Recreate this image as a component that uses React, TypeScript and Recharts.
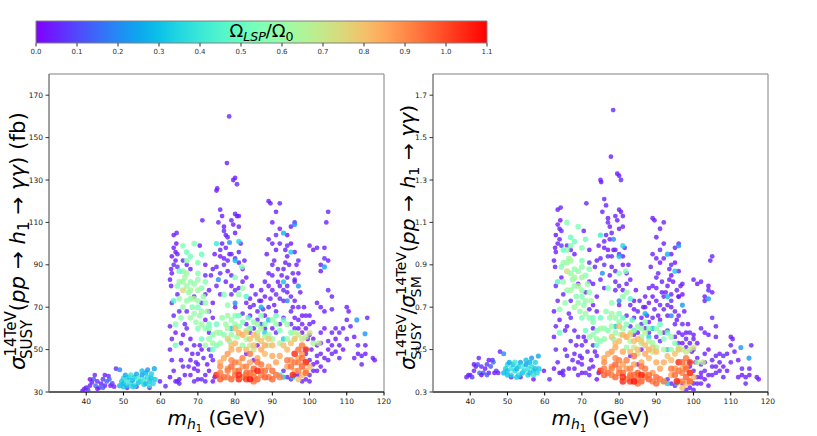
import { ReferenceArea, Scatter, ScatterChart, XAxis, YAxis } from "recharts";

// each point: [m_h1 (GeV), sigma_SUSY (fb), sigma_SUSY / sigma_SM, Omega_LSP / Omega_0]
type Pt = [number, number, number, number];

const lowMassPoints: Pt[] = [
  [39, 30.5, 0.37, 0.03], [39.5, 31.5, 0.38, 0.05], [40, 32, 0.38, 0.04], [40.5, 31, 0.37, 0.08],
  [41, 33, 0.4, 0.05], [41.5, 34.5, 0.42, 0.03], [42, 36, 0.43, 0.12], [42.3, 38, 0.46, 0.05],
  [42.5, 33, 0.39, 0.15], [43, 35, 0.42, 0.06], [43.5, 32, 0.39, 0.1], [44, 34, 0.41, 0.04],
  [44.5, 36, 0.43, 0.08], [45, 33, 0.39, 0.05], [45.5, 35, 0.42, 0.12], [46, 37.5, 0.45, 0.06],
  [46.2, 36, 0.44, 0.15], [46.5, 33, 0.39, 0.03], [47, 34, 0.4, 0.08], [47.5, 32.5, 0.39, 0.05],
  [41, 36, 0.43, 0.02], [43, 31.5, 0.38, 0.02], [44.5, 32, 0.38, 0.13], [48, 41, 0.49, 0.06],
  [45, 38, 0.45, 0.04], [51, 32, 0.37, 0.04], [53.5, 32.5, 0.37, 0.05], [59.8, 35, 0.4, 0.04],
  [61.3, 32.7, 0.36, 0.06], [57, 32, 0.36, 0.03],
];

const firstColumn: Pt[] = [
  [63.5, 104, 1.16, 0.03], [64.3, 105, 1.17, 0.05], [63.5, 98, 1.09, 0.04], [64, 96, 1.07, 0.03],
  [64.5, 95, 1.06, 0.06], [63, 94, 1.04, 0.02], [64, 92, 1.02, 0.04], [63.5, 90, 1.0, 0.05],
  [62.8, 88, 0.98, 0.03], [64.5, 89, 0.99, 0.07], [63, 86, 0.96, 0.04], [62.5, 83, 0.92, 0.03],
  [62.8, 80, 0.89, 0.05], [64.2, 100, 1.11, 0.02], [63, 72, 0.8, 0.06], [64.5, 76, 0.84, 0.04],
  [63.5, 66, 0.73, 0.05], [64, 58, 0.64, 0.03], [63, 45, 0.5, 0.05], [63.5, 40, 0.44, 0.04],
  [64, 35, 0.39, 0.03], [64.5, 35, 0.39, 0.06], [65, 36, 0.4, 0.04], [65, 34, 0.38, 0.05],
  [62.5, 37, 0.41, 0.03], [65.5, 45, 0.5, 0.04], [66, 42, 0.47, 0.06], [62.5, 61, 0.68, 0.04],
  [65, 68, 0.76, 0.05], [66, 92, 0.99, 0.05], [67, 90, 0.97, 0.03], [68, 88, 0.95, 0.04],
  [67, 60, 0.65, 0.06], [68, 45, 0.48, 0.04], [69, 41, 0.44, 0.03], [70, 40, 0.43, 0.05],
  [70, 43, 0.46, 0.04], [70, 48, 0.52, 0.06], [70.5, 99, 1.06, 0.04], [71.2, 111, 1.19, 0.05],
  [72, 90, 0.97, 0.03], [72, 85, 0.91, 0.06], [73, 78, 0.81, 0.04], [72, 76, 0.82, 0.05],
  [73, 68, 0.71, 0.03], [74, 65, 0.68, 0.04], [73, 50, 0.52, 0.06], [74, 45, 0.47, 0.05],
  [73, 40, 0.42, 0.03], [72, 38, 0.41, 0.04], [71, 36, 0.39, 0.06], [72, 35, 0.38, 0.05],
  [74, 35, 0.36, 0.03], [74.5, 37, 0.39, 0.04], [69, 52, 0.56, 0.05], [71, 50, 0.54, 0.03],
  [67, 68, 0.73, 0.06], [68, 38, 0.41, 0.04], [69, 35, 0.38, 0.05], [70, 36, 0.39, 0.03],
  [66.5, 62, 0.67, 0.05], [69, 75, 0.81, 0.04], [71, 72, 0.77, 0.06], [73, 58, 0.6, 0.03],
];

const secondColumn: Pt[] = [
  [75, 125, 1.3, 0.04], [75.2, 126, 1.29, 0.03], [76, 116, 1.21, 0.05], [76.5, 113, 1.18, 0.04],
  [77, 108, 1.12, 0.03], [77, 106, 1.1, 0.06], [77.5, 104, 1.08, 0.04], [78, 103, 1.05, 0.05],
  [78.5, 95, 0.97, 0.03], [79, 95, 0.97, 0.06], [76.5, 100, 1.04, 0.04], [76, 97, 1.01, 0.05],
  [77, 93, 0.97, 0.03], [77.8, 138, 1.41, 0.04], [78.4, 160, 1.63, 0.05], [79.5, 130, 1.33, 0.03],
  [80, 131, 1.32, 0.04], [80.5, 128, 1.3, 0.06], [80, 114, 1.16, 0.05], [80.5, 113, 1.15, 0.03],
  [81, 113, 1.13, 0.04], [81, 108, 1.08, 0.05], [80, 93, 0.95, 0.04], [81, 91, 0.9, 0.03],
  [79, 85, 0.87, 0.05], [79, 80, 0.82, 0.04], [80, 78, 0.8, 0.06], [81, 79, 0.78, 0.03],
  [82, 82, 0.81, 0.05], [83, 84, 0.83, 0.04], [82, 88, 0.86, 0.03], [79, 76, 0.78, 0.05],
  [80, 70, 0.71, 0.04], [82, 67, 0.66, 0.06], [84, 74, 0.73, 0.03], [85, 71, 0.68, 0.05],
  [86, 68, 0.65, 0.04], [84, 70, 0.69, 0.04], [76, 94, 0.98, 0.03], [75, 89, 0.93, 0.05],
  [74, 88, 0.92, 0.04], [77, 90, 0.94, 0.06], [81.5, 100, 0.98, 0.04], [79.5, 109, 1.11, 0.03],
  [75.5, 110, 1.15, 0.05], [78, 92, 0.94, 0.05], [83, 62, 0.61, 0.04], [85, 60, 0.58, 0.03],
  [86, 64, 0.62, 0.05], [84, 58, 0.57, 0.06], [86, 52, 0.5, 0.04], [85, 45, 0.43, 0.03],
  [83, 48, 0.47, 0.05], [87, 62, 0.6, 0.04], [88, 66, 0.63, 0.03],
];

const thirdColumn: Pt[] = [
  [89, 120, 1.12, 0.04], [89.5, 119, 1.11, 0.03], [92, 119, 1.1, 0.05], [90, 110, 1.03, 0.04],
  [91, 104, 0.97, 0.06], [92, 107, 1.0, 0.03], [89, 102, 0.95, 0.05], [90, 100, 0.93, 0.04],
  [91, 97, 0.91, 0.03], [92, 100, 0.93, 0.05], [93.5, 97, 0.88, 0.04], [94, 99, 0.9, 0.06],
  [94, 94, 0.85, 0.03], [95, 108, 0.98, 0.04], [96, 110, 1.0, 0.05], [95, 100, 0.91, 0.03],
  [96, 96, 0.87, 0.04], [97, 92, 0.81, 0.05], [97, 86, 0.76, 0.03], [96, 82, 0.75, 0.06],
  [89, 86, 0.8, 0.04], [90, 85, 0.79, 0.05], [89, 80, 0.75, 0.03], [90, 78, 0.73, 0.04],
  [91, 76, 0.71, 0.06], [92, 74, 0.69, 0.05], [93, 73, 0.66, 0.04], [94, 77, 0.7, 0.03],
  [92, 80, 0.75, 0.05], [94, 84, 0.76, 0.04], [96, 83, 0.75, 0.03], [95, 75, 0.68, 0.05],
  [96, 73, 0.66, 0.04], [97, 70, 0.62, 0.06], [98, 66, 0.58, 0.03], [98, 62, 0.55, 0.05],
  [99, 60, 0.53, 0.04], [98, 58, 0.51, 0.03], [95, 68, 0.62, 0.05], [93, 65, 0.59, 0.04],
  [92, 62, 0.58, 0.03], [91, 58, 0.54, 0.06], [90, 60, 0.56, 0.04], [89, 70, 0.65, 0.05],
  [88, 75, 0.72, 0.03], [87, 73, 0.7, 0.04], [90.5, 92, 0.86, 0.05], [93, 88, 0.8, 0.04],
  [91.5, 82, 0.77, 0.03], [94.5, 90, 0.82, 0.05], [97.5, 77, 0.68, 0.04], [95.5, 70, 0.64, 0.03],
  [93, 78, 0.71, 0.06], [91, 68, 0.64, 0.04], [97, 64, 0.57, 0.05], [88.5, 95, 0.89, 0.04],
];

const highMassPoints: Pt[] = [
  [100, 99, 0.83, 0.04], [101, 97, 0.81, 0.03], [102, 98, 0.82, 0.05], [103, 90, 0.75, 0.04],
  [104, 93, 0.78, 0.06], [104, 98, 0.8, 0.03], [104.5, 110, 0.92, 0.04], [105, 115, 0.94, 0.05],
  [105, 92, 0.77, 0.04], [103, 87, 0.73, 0.03], [102, 72, 0.6, 0.05], [103, 70, 0.58, 0.04],
  [104, 68, 0.57, 0.03], [105, 78, 0.65, 0.06], [106, 75, 0.61, 0.04], [106, 69, 0.56, 0.05],
  [104, 60, 0.5, 0.03], [103, 58, 0.48, 0.04], [102, 52, 0.43, 0.05], [101, 55, 0.46, 0.04],
  [100, 57, 0.5, 0.03], [99, 50, 0.44, 0.06], [102, 47, 0.39, 0.04], [103, 48, 0.4, 0.05],
  [104, 46, 0.38, 0.03], [105, 50, 0.42, 0.04], [106, 48, 0.39, 0.05], [107, 49, 0.4, 0.04],
  [107, 55, 0.44, 0.03], [108, 58, 0.47, 0.06], [108, 52, 0.42, 0.04], [109, 60, 0.48, 0.05],
  [110, 70, 0.56, 0.04], [110.5, 68, 0.55, 0.03], [110, 64, 0.52, 0.05], [112, 46, 0.37, 0.04],
  [113, 48, 0.38, 0.03], [113, 52, 0.41, 0.06], [114, 47, 0.37, 0.04], [114, 43, 0.34, 0.05],
  [115, 48, 0.38, 0.03], [115, 52, 0.41, 0.04], [115.5, 65, 0.52, 0.05], [117, 46, 0.37, 0.04],
  [117.5, 45, 0.36, 0.03], [110, 55, 0.44, 0.05], [111, 61, 0.49, 0.04], [99, 48, 0.42, 0.04],
  [100, 45, 0.4, 0.05], [101, 43, 0.37, 0.03], [101, 40, 0.34, 0.04], [100, 38, 0.34, 0.06],
  [99, 36, 0.32, 0.04], [102, 40, 0.34, 0.05], [103, 42, 0.36, 0.03], [97, 38, 0.34, 0.04],
  [95, 36, 0.33, 0.05], [96, 38, 0.35, 0.03], [94, 37, 0.34, 0.04], [93, 40, 0.36, 0.05],
  [101, 63, 0.53, 0.04], [100, 66, 0.57, 0.03], [106, 58, 0.47, 0.05], [112, 56, 0.45, 0.04],
];

const scatteredPurple: Pt[] = [
  [66.5, 38, 0.41, 0.04], [67.5, 42, 0.45, 0.05], [68.5, 48, 0.52, 0.03], [69.5, 44, 0.47, 0.06],
  [70.5, 52, 0.56, 0.04], [71.5, 46, 0.49, 0.05], [72.5, 43, 0.45, 0.03], [73.5, 47, 0.49, 0.04],
  [67, 50, 0.54, 0.05], [68, 55, 0.59, 0.04], [66, 57, 0.61, 0.03], [65.5, 53, 0.59, 0.06],
  [62.5, 50, 0.56, 0.04], [63, 55, 0.61, 0.05], [72, 64, 0.69, 0.04], [74, 72, 0.75, 0.03],
  [73.5, 85, 0.89, 0.05], [74.5, 95, 0.99, 0.04], [76, 86, 0.9, 0.06], [77.5, 82, 0.85, 0.04],
  [78, 87, 0.89, 0.03], [82.5, 92, 0.9, 0.05], [83, 72, 0.71, 0.04], [84.5, 80, 0.78, 0.03],
  [85.5, 76, 0.73, 0.05], [86.5, 73, 0.7, 0.04], [87.5, 69, 0.66, 0.06], [84, 66, 0.65, 0.04],
  [88, 60, 0.58, 0.05], [89.5, 74, 0.69, 0.04], [90.5, 71, 0.66, 0.03], [91.5, 88, 0.82, 0.05],
  [92.5, 85, 0.77, 0.04], [93.5, 91, 0.83, 0.03], [95.5, 86, 0.78, 0.05], [96.5, 90, 0.8, 0.04],
  [94, 80, 0.73, 0.06], [95, 62, 0.56, 0.04], [96, 60, 0.53, 0.05], [97, 60, 0.53, 0.03],
  [98.5, 70, 0.62, 0.04], [99, 66, 0.58, 0.05], [100, 62, 0.55, 0.04], [99.5, 55, 0.49, 0.03],
  [100.5, 50, 0.44, 0.05], [98, 35, 0.31, 0.04], [100, 35, 0.31, 0.05], [102, 44, 0.37, 0.03],
  [103, 53, 0.44, 0.04], [105, 54, 0.45, 0.05], [106, 52, 0.42, 0.04], [104, 40, 0.33, 0.03],
  [105, 45, 0.38, 0.05], [107, 60, 0.48, 0.04], [108, 46, 0.37, 0.05], [109, 50, 0.4, 0.03],
  [96, 65, 0.58, 0.04], [90, 90, 0.84, 0.05], [91, 115, 1.07, 0.04], [94, 104, 0.95, 0.03],
  [88, 82, 0.79, 0.05], [87, 78, 0.75, 0.04], [75, 80, 0.83, 0.05], [76, 76, 0.79, 0.04],
  [81, 96, 0.94, 0.04], [80, 105, 1.07, 0.03], [79, 111, 1.13, 0.05], [77.5, 98, 1.02, 0.04],
];

const bluePoints: Pt[] = [
  [78.5, 100.5, 1.02, 0.2], [75.5, 83, 0.86, 0.2], [80, 72, 0.73, 0.2], [96, 109, 0.99, 0.22],
  [97, 80, 0.71, 0.22], [94, 73, 0.66, 0.2], [104, 89, 0.74, 0.24], [112.7, 64, 0.51, 0.22],
  [114.9, 57.5, 0.46, 0.22], [93, 105, 0.95, 0.28], [93, 82, 0.75, 0.3], [81, 101, 0.99, 0.35],
  [75, 100, 1.04, 0.4], [79, 60, 0.61, 0.3], [93, 55, 0.5, 0.33], [95, 96, 0.87, 0.32],
  [87, 70, 0.67, 0.28], [89, 64, 0.6, 0.3], [80, 92, 0.94, 0.3], [84, 60, 0.59, 0.35],
  [95.5, 37, 0.34, 0.35], [92, 38, 0.35, 0.4], [93, 37, 0.34, 0.32], [88, 58, 0.56, 0.34],
];

const cyanCluster: Pt[] = [
  [49, 40.5, 0.48, 0.2], [49, 33, 0.39, 0.28], [49.5, 35, 0.41, 0.32], [50, 34, 0.4, 0.3],
  [50, 36.5, 0.43, 0.35], [50.5, 38, 0.44, 0.25], [51, 33, 0.38, 0.33], [51, 35.5, 0.41, 0.38],
  [51.5, 37, 0.43, 0.3], [52, 34, 0.4, 0.36], [52, 38, 0.44, 0.4], [52.5, 35.5, 0.41, 0.28],
  [53, 37, 0.42, 0.33], [53, 33, 0.38, 0.37], [53.5, 38.5, 0.44, 0.25], [54, 34.5, 0.39, 0.3],
  [54, 36.5, 0.42, 0.42], [54.5, 35, 0.4, 0.35], [55, 38, 0.43, 0.22], [55, 40, 0.45, 0.3],
  [55.5, 33.5, 0.38, 0.34], [55.5, 36, 0.41, 0.38], [56, 34, 0.39, 0.3], [56, 39, 0.44, 0.28],
  [56.5, 37, 0.42, 0.36], [57, 35, 0.4, 0.32], [57, 33, 0.38, 0.38], [57.5, 36.5, 0.41, 0.3],
  [57.5, 38.5, 0.44, 0.33], [58, 34, 0.39, 0.35], [58.3, 41, 0.47, 0.25], [58.5, 36, 0.41, 0.32],
  [50, 32.5, 0.38, 0.3], [52.5, 32.5, 0.37, 0.32], [56.5, 40.5, 0.46, 0.22],
];

const greenPoints: Pt[] = [
  [63.5, 73, 0.82, 0.45], [64, 62, 0.69, 0.55], [64, 52, 0.58, 0.5], [65, 82, 0.91, 0.6],
  [66, 82, 0.91, 0.62], [66, 87, 0.97, 0.58], [66, 78, 0.87, 0.75], [66, 99, 1.1, 0.55],
  [67, 80, 0.86, 0.6], [67, 86, 0.92, 0.62], [68, 82, 0.88, 0.58], [68, 78, 0.84, 0.65],
  [69, 81, 0.87, 0.6], [69, 100, 1.08, 0.55], [70, 83, 0.89, 0.6], [70, 86, 0.92, 0.55],
  [70, 78, 0.84, 0.62], [71, 79, 0.85, 0.58], [71, 95, 1.02, 0.5], [72, 82, 0.88, 0.55],
  [66, 70, 0.78, 0.6], [67, 73, 0.78, 0.62], [68, 74, 0.8, 0.58], [69, 74, 0.8, 0.65],
  [70, 73, 0.78, 0.6], [70, 70, 0.75, 0.55], [71, 68, 0.73, 0.6], [72, 72, 0.77, 0.58],
  [68, 65, 0.7, 0.62], [69, 67, 0.72, 0.6], [70, 60, 0.65, 0.55], [71, 62, 0.67, 0.62],
  [72, 60, 0.65, 0.58], [73, 55, 0.57, 0.6], [74, 57, 0.59, 0.55], [71, 55, 0.59, 0.5],
  [72, 52, 0.56, 0.6], [77, 76, 0.79, 0.55], [78, 71, 0.72, 0.58], [79, 64, 0.65, 0.6],
  [80, 66, 0.67, 0.55], [80, 62, 0.63, 0.58], [78, 60, 0.61, 0.62], [79, 57, 0.58, 0.6],
  [77, 57, 0.59, 0.55], [76, 58, 0.6, 0.58], [75, 62, 0.65, 0.5], [76, 53, 0.55, 0.6],
  [75, 52, 0.54, 0.55], [74, 50, 0.52, 0.5], [80, 84, 0.86, 0.55], [81.8, 89, 0.87, 0.55],
  [81, 76, 0.75, 0.58], [83, 75, 0.74, 0.45], [82, 79, 0.77, 0.6], [73, 62, 0.65, 0.52],
  [65, 87, 0.97, 0.5], [67, 92, 0.99, 0.55], [78, 66, 0.67, 0.62], [80.5, 56, 0.57, 0.6],
  [64.5, 80, 0.89, 0.55], [65, 74, 0.82, 0.6], [65.5, 65, 0.72, 0.58], [66.5, 84, 0.93, 0.62],
  [67.5, 77, 0.83, 0.6], [68.5, 70, 0.75, 0.55], [69.5, 63, 0.68, 0.6], [70.5, 66, 0.71, 0.58],
  [71.5, 75, 0.81, 0.6], [72.5, 68, 0.73, 0.62], [73, 60, 0.63, 0.55], [74, 53, 0.55, 0.6],
  [75, 58, 0.6, 0.62], [76.5, 65, 0.68, 0.58], [77.5, 62, 0.65, 0.6], [78.5, 54, 0.55, 0.55],
  [81, 66, 0.65, 0.5], [82, 63, 0.62, 0.55], [83.5, 65, 0.64, 0.48], [67, 96, 1.03, 0.5],
  [68, 94, 1.01, 0.52], [70, 91, 0.98, 0.55],
];

const paleGreenPoints: Pt[] = [
  [84, 60, 0.59, 0.6], [85, 63, 0.61, 0.58], [86, 58, 0.56, 0.62], [87, 60, 0.58, 0.65],
  [88, 62, 0.6, 0.55], [89, 57, 0.53, 0.6], [90, 64, 0.6, 0.58], [91, 62, 0.58, 0.6],
  [92, 59, 0.55, 0.55], [93, 64, 0.58, 0.5], [94, 62, 0.56, 0.6], [95, 58, 0.53, 0.55],
  [83, 55, 0.54, 0.65], [82, 52, 0.51, 0.6], [84, 52, 0.51, 0.7], [86, 55, 0.53, 0.68],
  [88, 56, 0.54, 0.66], [90, 55, 0.51, 0.62], [92, 53, 0.5, 0.65], [94, 55, 0.5, 0.6],
  [96, 58, 0.51, 0.65], [97, 57, 0.5, 0.7], [98, 55, 0.49, 0.7], [99, 56, 0.5, 0.68],
  [100, 58, 0.51, 0.72], [101, 53, 0.44, 0.65], [102.5, 53, 0.44, 0.68], [96, 55, 0.5, 0.72],
  [87, 66, 0.63, 0.55], [91, 66, 0.62, 0.5], [86, 62, 0.6, 0.6], [89, 52, 0.49, 0.7],
  [85, 50, 0.48, 0.72], [83, 59, 0.58, 0.62], [81, 61, 0.6, 0.58],
];

const orangePoints: Pt[] = [
  [78, 55, 0.56, 0.78], [80, 60, 0.61, 0.8], [81, 58, 0.57, 0.82], [82, 57, 0.56, 0.85],
  [83, 58, 0.57, 0.78], [84, 55, 0.54, 0.8], [85, 57, 0.55, 0.82], [86, 56, 0.54, 0.78],
  [87, 54, 0.52, 0.8], [88, 52, 0.5, 0.85], [80, 53, 0.54, 0.82], [79, 52, 0.53, 0.8],
  [81, 50, 0.49, 0.85], [83, 50, 0.49, 0.82], [85, 52, 0.5, 0.8], [87, 50, 0.48, 0.85],
  [89, 55, 0.51, 0.78], [90, 52, 0.49, 0.82], [78, 48, 0.49, 0.88], [77, 46, 0.48, 0.85],
  [79, 45, 0.46, 0.9], [76, 44, 0.46, 0.85], [76, 42, 0.44, 0.9], [78, 41, 0.42, 0.88],
  [80, 40, 0.41, 0.9], [82, 42, 0.41, 0.88], [84, 44, 0.43, 0.86], [86, 46, 0.44, 0.85],
  [88, 48, 0.46, 0.82], [90, 47, 0.44, 0.85], [92, 47, 0.44, 0.85], [93, 52, 0.47, 0.8],
  [94, 50, 0.45, 0.82], [95, 53, 0.48, 0.8], [96, 55, 0.5, 0.78], [97, 46, 0.41, 0.85],
  [98, 48, 0.42, 0.88], [99, 44, 0.39, 0.85], [100, 42, 0.37, 0.82], [95, 45, 0.41, 0.88],
  [94, 42, 0.38, 0.86], [96, 40, 0.35, 0.85], [98, 38, 0.34, 0.82], [99, 40, 0.35, 0.84],
  [97, 36, 0.32, 0.8], [91, 44, 0.41, 0.86], [89, 42, 0.39, 0.88], [87, 40, 0.38, 0.9],
  [85, 39, 0.38, 0.88], [83, 38, 0.37, 0.9], [81, 44, 0.43, 0.86], [79, 50, 0.51, 0.84],
];

const redPoints: Pt[] = [
  [75, 38, 0.4, 1.05], [76, 39, 0.41, 0.93], [77, 37, 0.39, 0.95], [78, 40, 0.41, 0.92],
  [79, 36, 0.37, 0.96], [80, 38, 0.39, 0.94], [81, 36, 0.35, 1.05], [82, 37, 0.36, 0.93],
  [83, 36, 0.35, 1.02], [84, 39, 0.38, 0.95], [85, 37, 0.36, 0.93], [86, 36, 0.35, 0.97],
  [87, 38, 0.37, 0.92], [88, 40, 0.38, 0.95], [89, 37, 0.35, 0.93], [90, 36, 0.34, 0.96],
  [91, 38, 0.36, 0.94], [92, 37, 0.35, 0.92], [81, 40, 0.39, 0.95], [83, 42, 0.41, 0.92],
  [85, 41, 0.39, 0.97], [87, 43, 0.41, 0.93], [80, 44, 0.45, 0.92], [82, 46, 0.45, 0.92],
  [84, 48, 0.47, 0.93], [86, 44, 0.42, 0.94], [79, 42, 0.43, 0.96], [81, 38, 0.37, 1.04],
  [83, 39, 0.38, 0.95], [85, 35, 0.34, 0.94], [78, 37, 0.38, 0.93], [76, 36, 0.38, 0.97],
  [96, 48, 0.44, 1.05], [97, 50, 0.44, 0.95], [98, 52, 0.46, 0.93], [99, 50, 0.44, 1.02],
  [98, 46, 0.41, 0.95], [97, 44, 0.39, 0.92], [99, 44, 0.39, 1.04], [96, 44, 0.4, 0.93],
  [95, 42, 0.38, 0.95], [98, 42, 0.37, 0.97], [97, 40, 0.35, 0.92], [99, 39, 0.35, 0.95],
  [94, 45, 0.41, 0.93], [95.5, 38, 0.35, 1.05], [84, 36, 0.35, 1.08], [86, 40, 0.38, 1.06],
  [88, 37, 0.36, 0.97], [90, 40, 0.37, 0.95],
];

// drawn in this order, low Omega first
const groups: Pt[][] = [
  lowMassPoints, firstColumn, secondColumn, thirdColumn, highMassPoints, scatteredPurple,
  bluePoints, cyanCluster, greenPoints, paleGreenPoints, orangePoints, redPoints,
];

const massTicks = [40, 50, 60, 70, 80, 90, 100, 110, 120];
const sigmaTicks = [30, 50, 70, 90, 110, 130, 150, 170];
const ratioTicks = [0.3, 0.5, 0.7, 0.9, 1.1, 1.3, 1.5, 1.7];
const omegaTicks = [0, 0.1, 0.2, 0.3, 0.4, 0.5, 0.6, 0.7, 0.8, 0.9, 1.0, 1.1];
const OMEGA_MAX = 1.1;

const FONT = "DejaVu Sans";

// matplotlib "rainbow"
function rainbow(omega: number) {
  const t = Math.min(1, Math.max(0, omega / OMEGA_MAX));
  const r = Math.min(1, Math.abs(2 * t - 0.5));
  const g = Math.sin(Math.PI * t);
  const b = Math.cos((Math.PI / 2) * t);
  return `rgb(${Math.round(r * 255)},${Math.round(g * 255)},${Math.round(b * 255)})`;
}

function Dot(props: any) {
  const { cx, cy, payload } = props;
  if (cx == null || cy == null) return null;
  return (
    <circle
      cx={cx}
      cy={cy}
      r={2.35 + payload.omega * 0.9}
      fill={rainbow(payload.omega)}
      fillOpacity={0.8}
    />
  );
}

const tickStyle = { fontSize: 7.5, fill: "#222", fontFamily: FONT };

function Panel({ ratio }: { ratio: boolean }) {
  const yDomain = ratio ? [0.3, 1.8] : [30, 180];
  return (
    <ScatterChart
      width={400}
      height={376}
      margin={{ top: 14, right: ratio ? 32 : 16, bottom: 0, left: 0 }}
    >
      <XAxis
        type="number"
        dataKey="m"
        domain={[30, 120]}
        ticks={massTicks}
        allowDataOverflow
        height={44}
        tick={tickStyle}
        tickSize={3.5}
        tickMargin={3}
        axisLine={{ stroke: "#000" }}
        tickLine={{ stroke: "#000" }}
      />
      <YAxis
        type="number"
        dataKey="y"
        domain={yDomain}
        ticks={ratio ? ratioTicks : sigmaTicks}
        tickFormatter={(v: number) => (ratio ? v.toFixed(1) : String(v))}
        allowDataOverflow
        width={ratio ? 33 : 49}
        tick={tickStyle}
        tickSize={3.5}
        tickMargin={2.5}
        axisLine={{ stroke: "#808080" }}
        tickLine={{ stroke: "#333" }}
      />
      <ReferenceArea
        x1={30}
        x2={120}
        y1={yDomain[0]}
        y2={yDomain[1]}
        fill="none"
        stroke="#808080"
        strokeWidth={1}
      />
      {groups.map((g, i) => (
        <Scatter
          key={i}
          data={g.map(([m, s, r, o]) => ({ m, y: ratio ? r : s, omega: o }))}
          shape={Dot}
          isAnimationActive={false}
        />
      ))}
    </ScatterChart>
  );
}

function ColorBar() {
  return (
    <ScatterChart width={500} height={70} margin={{ top: 21, right: 13, bottom: 0, left: 36 }}>
      <defs>
        <linearGradient id="omegaRamp" x1="0" y1="0" x2="1" y2="0">
          {Array.from({ length: 23 }, (_, i) => (
            <stop key={i} offset={i / 22} stopColor={rainbow((i / 22) * OMEGA_MAX)} />
          ))}
        </linearGradient>
      </defs>
      <XAxis
        type="number"
        dataKey="v"
        domain={[0, 1.1]}
        ticks={omegaTicks}
        tickFormatter={(v: number) => v.toFixed(1)}
        height={27}
        axisLine={false}
        tickSize={3.5}
        tickMargin={3}
        tick={{ fontSize: 7, fill: "#333", fontFamily: FONT }}
        tickLine={{ stroke: "#333" }}
      />
      <YAxis type="number" dataKey="w" domain={[0, 1]} hide />
      <ReferenceArea
        x1={0}
        x2={1.1}
        y1={0}
        y2={1}
        fill="url(#omegaRamp)"
        fillOpacity={1}
        stroke="#808080"
      />
      <Scatter
        data={omegaTicks.map((v) => ({ v, w: 0.5 }))}
        shape={() => <g />}
        isAnimationActive={false}
      />
    </ScatterChart>
  );
}

export default function App() {
  return (
    <div style={{ position: "absolute", left: 0, top: 0, width: 817, height: 436, background: "#fff" }}>
      <div style={{ position: "absolute", left: 0, top: 0 }}>
        <ColorBar />
      </div>
      <div style={{ position: "absolute", left: 0, top: 60 }}>
        <Panel ratio={false} />
      </div>
      <div style={{ position: "absolute", left: 400, top: 60 }}>
        <Panel ratio />
      </div>
      <svg
        width={817}
        height={436}
        style={{ position: "absolute", left: 0, top: 0, pointerEvents: "none" }}
        fontFamily={FONT}
        fill="#000"
      >
        <text x={261.5} y={37} fontSize={18} textAnchor="middle">
          <tspan>Ω</tspan>
          <tspan fontSize={12.6} dy={4} fontStyle="italic">LSP</tspan>
          <tspan dy={-4}>/Ω</tspan>
          <tspan fontSize={12.6} dy={4}>0</tspan>
        </text>

        <text x={216.5} y={425} fontSize={20} textAnchor="middle">
          <tspan fontStyle="italic">m</tspan>
          <tspan fontSize={14} dy={4} fontStyle="italic">h</tspan>
          <tspan fontSize={10} dy={3}>1</tspan>
          <tspan dy={-7}> (GeV)</tspan>
        </text>
        <text x={600.5} y={425} fontSize={20} textAnchor="middle">
          <tspan fontStyle="italic">m</tspan>
          <tspan fontSize={14} dy={4} fontStyle="italic">h</tspan>
          <tspan fontSize={10} dy={3}>1</tspan>
          <tspan dy={-7}> (GeV)</tspan>
        </text>

        <g transform="translate(25,370) rotate(-90)">
          <text fontSize={21.3}>
            <tspan fontStyle="italic">σ</tspan>
            <tspan fontSize={15} dy={-9.5}>14TeV</tspan>
            <tspan fontSize={15} dx={-47.8} dy={16}>SUSY</tspan>
            <tspan dx={8.6} dy={-6.5}>(</tspan>
            <tspan fontStyle="italic">pp</tspan>
            <tspan> → </tspan>
            <tspan fontStyle="italic">h</tspan>
            <tspan fontSize={15} dy={4}>1</tspan>
            <tspan dy={-4}> → </tspan>
            <tspan fontStyle="italic">γγ</tspan>
            <tspan>) (fb)</tspan>
          </text>
        </g>

        <g transform="translate(415,370) rotate(-90)">
          <text fontSize={20.3}>
            <tspan fontStyle="italic">σ</tspan>
            <tspan fontSize={14.2} dy={-9}>14TeV</tspan>
            <tspan fontSize={14.2} dx={-45.3} dy={15}>SUSY</tspan>
            <tspan dx={8.1} dy={-6}>/</tspan>
            <tspan fontStyle="italic">σ</tspan>
            <tspan fontSize={14.2} dy={-9}>14TeV</tspan>
            <tspan fontSize={14.2} dx={-45.3} dy={15}>SM</tspan>
            <tspan dx={24} dy={-6}>(</tspan>
            <tspan fontStyle="italic">pp</tspan>
            <tspan> → </tspan>
            <tspan fontStyle="italic">h</tspan>
            <tspan fontSize={14.2} dy={4}>1</tspan>
            <tspan dy={-4}> → </tspan>
            <tspan fontStyle="italic">γγ</tspan>
            <tspan>)</tspan>
          </text>
        </g>
      </svg>
    </div>
  );
}
